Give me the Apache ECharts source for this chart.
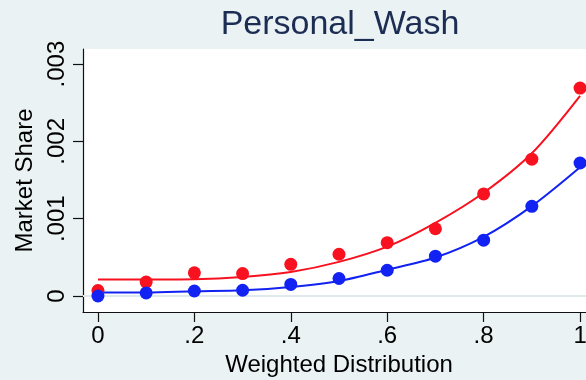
<!DOCTYPE html>
<html>
<head>
<meta charset="utf-8">
<title>Personal_Wash</title>
<script src="https://cdn.jsdelivr.net/npm/echarts@6/dist/echarts.min.js"></script>
<style>
  html, body { margin: 0; padding: 0; background: #eaf2f3; }
  #chart { width: 586px; height: 380px; }
</style>
</head>
<body>
<div id="chart"></div>
<script>
// Weighted distribution levels
const xValues = [0, 0.1, 0.2, 0.3, 0.4, 0.5, 0.6, 0.7, 0.8, 0.9, 1];

// Observed market share (dots)
const redObserved  = [0.00007, 0.00018, 0.00030, 0.00029, 0.00041, 0.00054, 0.00069, 0.00087, 0.00132, 0.00177, 0.00269];
const blueObserved = [0.00000, 0.00004, 0.000065, 0.000074, 0.00015, 0.000226, 0.000333, 0.000515, 0.000722, 0.00116, 0.00172];

// Fitted market share (curves)
const redFitted  = [0.000213, 0.000214, 0.000217, 0.000246, 0.000311, 0.000441, 0.000638, 0.000946, 0.001335, 0.001846, 0.002589];
const blueFitted = [0.000044, 0.000044, 0.000061, 0.000074, 0.000117, 0.000194, 0.00034, 0.000498, 0.000765, 0.001163, 0.001665];

// Tick labels
const xTicks = [0, 0.2, 0.4, 0.6, 0.8, 1];
const yTicks = [0, 0.001, 0.002, 0.003];

const RED = '#f8111f';
const BLUE = '#1122f2';
const FONT = 'Liberation Sans';

function dropLeadingZero(v) {
  return v === 0 ? '0' : String(v).replace(/^0\./, '.');
}

function pairs(xs, ys) {
  return xs.map((x, i) => [x, ys[i]]);
}

const chart = echarts.init(document.getElementById('chart'), null, { renderer: 'canvas' });

chart.setOption({
  backgroundColor: '#eaf2f3',
  animation: false,
  title: {
    text: 'Personal_Wash',
    left: 335,
    top: 3,
    textAlign: 'center',
    textStyle: { fontFamily: FONT, fontSize: 34, fontWeight: 'normal', color: '#1c2d54' }
  },
  grid: {
    left: 83, top: 49, width: 512, height: 263,
    outerBoundsMode: 'none',
    containLabel: false,
    show: true, backgroundColor: '#ffffff', borderWidth: 0
  },
  xAxis: {
    type: 'value',
    min: -0.031, max: 1.031,
    name: 'Weighted Distribution',
    nameLocation: 'middle',
    nameGap: 37,
    nameTextStyle: { fontFamily: FONT, fontSize: 24, color: '#000' },
    axisLine: { show: true, onZero: false, lineStyle: { color: '#111', width: 1.2 } },
    axisTick: { show: true, length: 10, customValues: xTicks, lineStyle: { color: '#111', width: 1.2 } },
    axisLabel: {
      customValues: xTicks, margin: 12,
      fontFamily: FONT, fontSize: 24, color: '#000',
      formatter: dropLeadingZero
    },
    splitLine: { show: false }
  },
  yAxis: {
    type: 'value',
    min: -0.000207, max: 0.003195,
    name: 'Market Share',
    nameLocation: 'middle',
    nameGap: 41,
    nameTextStyle: { fontFamily: FONT, fontSize: 24, color: '#000' },
    axisLine: { show: true, onZero: false, lineStyle: { color: '#111', width: 1.2 } },
    axisTick: { show: true, length: 10, customValues: yTicks, lineStyle: { color: '#111', width: 1.2 } },
    axisLabel: {
      customValues: yTicks, margin: 14, rotate: 90,
      fontFamily: FONT, fontSize: 24, color: '#000',
      formatter: dropLeadingZero
    },
    splitLine: { show: false }
  },
  series: [
    {
      // horizontal reference lines at the y ticks
      type: 'line',
      data: [],
      z: 1,
      silent: true,
      markLine: {
        silent: true,
        symbol: 'none',
        label: { show: false },
        lineStyle: { color: '#e0eaec', width: 2, type: 'solid' },
        data: yTicks.map(v => ({ yAxis: v }))
      }
    },
    {
      type: 'line', name: 'red fit', z: 3,
      data: pairs(xValues, redFitted),
      smooth: 0.3,
      showSymbol: false,
      lineStyle: { color: RED, width: 2 }
    },
    {
      type: 'line', name: 'blue fit', z: 3,
      data: pairs(xValues, blueFitted),
      smooth: 0.3,
      showSymbol: false,
      lineStyle: { color: BLUE, width: 2 }
    },
    {
      type: 'scatter', name: 'red', z: 4,
      data: pairs(xValues, redObserved),
      symbolSize: 13,
      itemStyle: { color: RED, opacity: 1 }
    },
    {
      type: 'scatter', name: 'blue', z: 5,
      data: pairs(xValues, blueObserved),
      symbolSize: 13,
      itemStyle: { color: BLUE, opacity: 1 }
    }
  ]
});
</script>
</body>
</html>
